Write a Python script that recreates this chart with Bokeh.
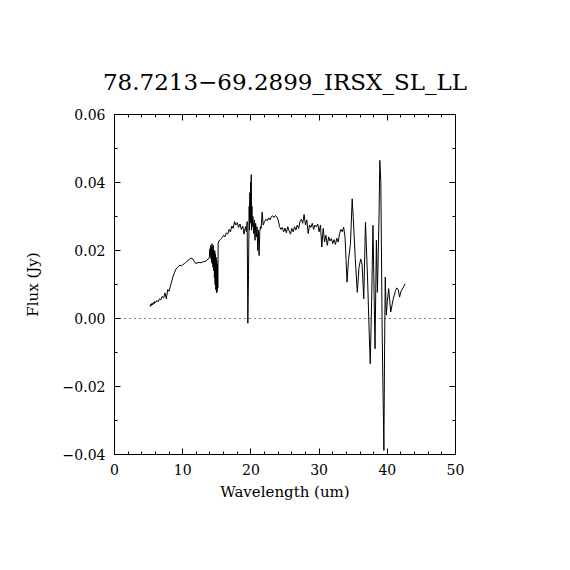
from bokeh.plotting import figure
from bokeh.models import (Range1d, LinearAxis, SingleIntervalTicker, CustomJSTickFormatter, Span)
from bokeh.embed import file_html
from bokeh.resources import INLINE

TITLE = "78.7213\u221269.2899_IRSX_SL_LL"
X_LABEL = "Wavelength (um)"
Y_LABEL = "Flux (Jy)"

wave_1 = [5.2, 5.3, 5.4, 5.5, 5.6, 5.7, 5.8, 5.9, 6.0, 6.2, 6.4, 6.6, 6.8, 7.0, 7.2, 7.4, 7.6, 7.8,
          8.0, 8.2, 8.4, 8.6, 8.8, 9.0, 9.2, 9.4, 9.6, 9.8, 10.0, 10.3, 10.6, 10.9, 11.2, 11.5, 11.7,
          11.9, 12.1, 12.4, 12.7, 13.0, 13.3, 13.6, 13.9]
flux_1 = [0.0035, 0.0042, 0.0038, 0.0045, 0.0040, 0.0047, 0.0043, 0.0050, 0.0046, 0.0053, 0.0049,
          0.0058, 0.0055, 0.0065, 0.0060, 0.0075, 0.0058, 0.0085, 0.0080, 0.0095, 0.0110, 0.0125,
          0.0135, 0.0145, 0.0150, 0.0153, 0.0157, 0.0155, 0.0158, 0.0162, 0.0168, 0.0172, 0.0178,
          0.0175, 0.0168, 0.0162, 0.0163, 0.0165, 0.0164, 0.0167, 0.0168, 0.0172, 0.0180]

wave_2 = [14.0, 14.05, 14.1, 14.15, 14.2, 14.25, 14.3, 14.35, 14.4, 14.45, 14.5, 14.55, 14.6, 14.65,
          14.7, 14.75, 14.8, 14.85, 14.9, 14.95, 15.0, 15.05, 15.1, 15.15, 15.2, 15.3]
flux_2 = [0.0205, 0.0185, 0.0215, 0.0175, 0.0210, 0.0165, 0.0220, 0.0160, 0.0200, 0.0150, 0.0215,
          0.0140, 0.0195, 0.0120, 0.0200, 0.0100, 0.0190, 0.0085, 0.0180, 0.0075, 0.0170, 0.0078,
          0.0160, 0.0090, 0.0220, 0.0228]

wave_3 = [15.5, 15.8, 16.0, 16.2, 16.4, 16.6, 16.8, 17.0, 17.2, 17.4, 17.6, 17.8, 18.0, 18.2, 18.4,
          18.6, 18.8, 19.0, 19.2]
flux_3 = [0.0232, 0.0238, 0.0245, 0.0240, 0.0252, 0.0248, 0.0262, 0.0255, 0.0272, 0.0265, 0.0285,
          0.0275, 0.0282, 0.0268, 0.0278, 0.0262, 0.0272, 0.0248, 0.0270]

wave_4 = [19.35, 19.45, 19.55, 19.65, 19.75, 19.8, 19.85, 19.9, 19.95, 20.0, 20.05, 20.1, 20.15, 20.2,
          20.3, 20.4, 20.5, 20.6, 20.7, 20.8, 20.9, 21.0, 21.1, 21.2, 21.3, 21.4, 21.5, 21.65, 21.8]
flux_4 = [0.0255, 0.0285, -0.0014, 0.0130, 0.0330, 0.0260, 0.0370, 0.0280, 0.0400, 0.0290, 0.0423,
          0.0260, 0.0330, 0.0270, 0.0300, 0.0250, 0.0290, 0.0230, 0.0280, 0.0240, 0.0270, 0.0200,
          0.0260, 0.0185, 0.0255, 0.0270, 0.0265, 0.0313, 0.0275]

wave_5 = [22.0, 22.2, 22.4, 22.6, 22.8, 23.0, 23.2, 23.4, 23.6, 23.8, 24.0, 24.2, 24.4, 24.6, 24.8,
          25.0, 25.2, 25.4, 25.6, 25.8, 26.0, 26.2, 26.4, 26.6, 26.8, 27.0, 27.2, 27.4, 27.6, 27.8,
          28.0, 28.2, 28.4, 28.6, 28.8, 29.0, 29.2, 29.4, 29.6, 29.8, 30.0, 30.2, 30.4, 30.6, 30.8,
          31.0, 31.2, 31.4, 31.6, 31.8, 32.0, 32.2, 32.4, 32.6, 32.8, 33.0, 33.2, 33.4, 33.6]
flux_5 = [0.0285, 0.0292, 0.0288, 0.0296, 0.0290, 0.0300, 0.0302, 0.0297, 0.0303, 0.0299, 0.0290,
          0.0270, 0.0262, 0.0268, 0.0255, 0.0266, 0.0252, 0.0270, 0.0258, 0.0248, 0.0265, 0.0255,
          0.0270, 0.0260, 0.0275, 0.0265, 0.0285, 0.0292, 0.0280, 0.0306, 0.0275, 0.0290, 0.0250,
          0.0275, 0.0268, 0.0280, 0.0262, 0.0275, 0.0270, 0.0278, 0.0255, 0.0275, 0.0210, 0.0265,
          0.0225, 0.0245, 0.0215, 0.0240, 0.0228, 0.0235, 0.0220, 0.0232, 0.0218, 0.0236, 0.0225,
          0.0250, 0.0262, 0.0255, 0.0268]

wave_6 = [33.8, 34.1, 34.3, 34.6, 34.85, 35.0, 35.3, 35.6, 35.85, 36.1, 36.3, 36.55, 36.8, 37.1,
          37.35, 37.5, 37.7, 37.9, 38.2, 38.4, 38.55, 38.8, 38.9, 39.05, 39.25, 39.5, 39.6, 39.7,
          39.85, 40.0, 40.2, 40.5, 40.7, 40.9, 41.2, 41.4, 41.6, 41.8, 42.0, 42.3, 42.6]
flux_6 = [0.0240, 0.0107, 0.0170, 0.0220, 0.0352, 0.0300, 0.0176, 0.0077, 0.0150, 0.0175, 0.0160,
          0.0058, 0.0283, 0.0122, -0.0045, -0.0133, 0.0050, 0.0274, -0.0089, 0.0230, 0.0077,
          0.0313, 0.0465, 0.0400, -0.0040, -0.0388, -0.0095, 0.0122, 0.0010, 0.0050, 0.0088,
          0.0019, 0.0040, 0.0060, 0.0082, 0.0090, 0.0085, 0.0063, 0.0080, 0.0090, 0.0102]

wavelength = wave_1 + wave_2 + wave_3 + wave_4 + wave_5 + wave_6
flux = flux_1 + flux_2 + flux_3 + flux_4 + flux_5 + flux_6

FONT = "DejaVu Serif"

p = figure(width=562, height=562, output_backend="svg", toolbar_location=None,
           x_range=Range1d(0, 50), y_range=Range1d(-0.04, 0.06),
           min_border_left=114, min_border_right=107, min_border_top=114, min_border_bottom=108,
           x_axis_location=None, y_axis_location=None)
p.background_fill_color = "white"
p.border_fill_color = "white"
p.outline_line_color = "black"
p.outline_line_width = 1
p.grid.visible = False

yfmt = CustomJSTickFormatter(code="return tick.toFixed(2).replace('-', '\u2212');")
blank = CustomJSTickFormatter(code="return '';")


def style(ax, labels=True):
    ax.axis_line_color = "black"
    ax.major_tick_in = 6
    ax.major_tick_out = 0
    ax.minor_tick_in = 3
    ax.minor_tick_out = 0
    ax.major_tick_line_color = "black"
    ax.minor_tick_line_color = "black"
    ax.major_label_text_font = FONT
    ax.major_label_text_font_size = "14px"
    ax.major_label_text_color = "black"
    ax.axis_label_text_font = FONT
    ax.axis_label_text_font_size = "15px"
    ax.axis_label_text_font_style = "normal"
    ax.axis_label_text_color = "black"
    if not labels:
        ax.formatter = blank
        ax.major_label_text_font_size = "0px"
        ax.major_label_standoff = 0


xb = LinearAxis(ticker=SingleIntervalTicker(interval=10, num_minor_ticks=5), axis_label=X_LABEL)
style(xb)
xb.major_label_standoff = 9
xb.axis_label_standoff = 5
p.add_layout(xb, "below")

# top axis carries the chart title as its label
xt = LinearAxis(ticker=SingleIntervalTicker(interval=10, num_minor_ticks=5), axis_label=TITLE)
style(xt, labels=False)
xt.axis_label_text_font_size = "23px"
xt.axis_label_standoff = 20
p.add_layout(xt, "above")

yl = LinearAxis(ticker=SingleIntervalTicker(interval=0.02, num_minor_ticks=2), formatter=yfmt,
                axis_label=Y_LABEL)
style(yl)
yl.major_label_standoff = 9
yl.axis_label_standoff = 18
p.add_layout(yl, "left")

yr = LinearAxis(ticker=SingleIntervalTicker(interval=0.02, num_minor_ticks=2))
style(yr, labels=False)
p.add_layout(yr, "right")

p.add_layout(Span(location=0, dimension="width", line_color="black", line_width=1,
                  line_dash="1 4"))

p.line(wavelength, flux, line_color="black", line_width=1)

open("out.html", "w").write(file_html(p, INLINE))
